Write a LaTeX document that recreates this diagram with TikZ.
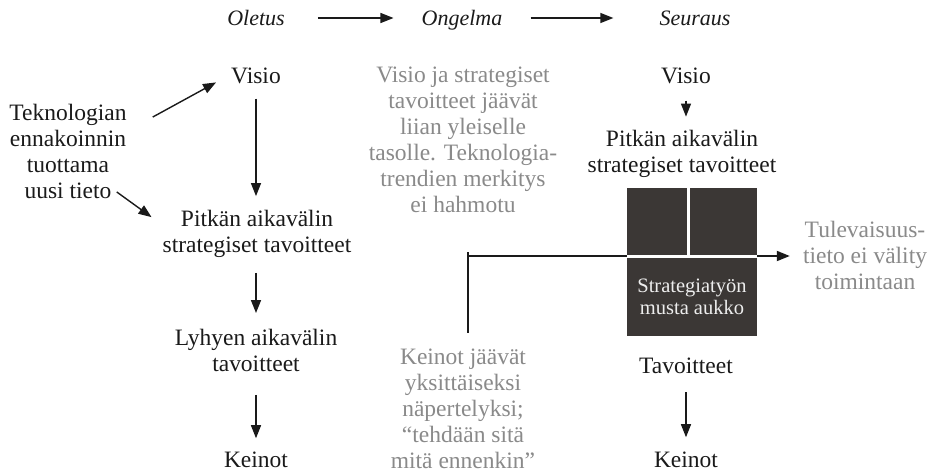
\documentclass[tikz,border=0pt]{standalone}
\usepackage{fontspec}
\setmainfont{Liberation Serif}
\usetikzlibrary{arrows.meta,calc}
\definecolor{ink}{HTML}{1A1A1A}
\definecolor{muted}{HTML}{8A8A8A}
\definecolor{hole}{HTML}{3B3735}
\definecolor{holetext}{HTML}{EDEDED}
\begin{document}
\begin{tikzpicture}[x=1pt,y=-1pt,
  txt/.style={font=\fontsize{23.5}{26}\selectfont, text=ink, align=center, inner sep=0pt},
  note/.style={font=\fontsize{23.5}{26}\selectfont, text=muted, align=center, inner sep=0pt},
  head/.style={font=\fontsize{22}{26}\selectfont\itshape, text=ink, inner sep=0pt,
               text height=15pt, text depth=5pt},
  holelabel/.style={font=\fontsize{20.5}{22}\selectfont, text=holetext, align=center, inner sep=0pt},
  arr/.style={draw=ink, line width=1.4pt, -{Triangle[length=13pt,width=10pt]}},
]
\fill[white] (0,0) rectangle (938,472);
\useasboundingbox (0,0) rectangle (938,472);

% column headings
\node[head, anchor=base] (oletus)  at (256,25) {Oletus};
\node[head, anchor=base] (ongelma) at (462,25) {Ongelma};
\node[head, anchor=base] (seuraus) at (695,25) {Seuraus};
\draw[arr, shorten <=33pt, shorten >=28pt] ([yshift=2pt]oletus.east) -- ([yshift=2pt]ongelma.west);
\draw[arr, shorten <=28pt, shorten >=46pt] ([yshift=2pt]ongelma.east) -- ([yshift=2pt]seuraus.west);

% left column: assumed chain
\node[txt] (tek) at (68,151.5) {Teknologian\\ennakoinnin\\tuottama\\uusi tieto};
\node[txt, anchor=base] (visL) at (256,83) {Visio};
\node[txt] (pitL) at (257,234) {Pitkän aikavälin\\strategiset tavoitteet};
\node[txt] (lyhL) at (256,350.5) {Lyhyen aikavälin\\tavoitteet};
\node[txt, anchor=base] (keiL) at (256,467) {Keinot};

\draw[arr, shorten <=15pt, shorten >=14pt] (visL.south) -- (visL.south |- pitL.north);
\draw[arr, shorten <=15pt, shorten >=16pt] (pitL.south -| visL.south) -- (visL.south |- lyhL.north);
\draw[arr, shorten <=23pt, shorten >=13pt] (lyhL.south) -- (lyhL.south |- keiL.north);
\draw[arr] ([shift={(26,13)}]tek.north east) -- ([shift={(-15,7)}]visL.west);
\draw[arr] ([shift={(-10,-7)}]tek.south east) -- ([shift={(-11,7)}]pitL.north west);

% middle column: the problem
\node[note] (probTop) at (463,140) {Visio ja strategiset\\tavoitteet jäävät\\liian yleiselle\\tasolle. Teknologia-\\trendien merkitys\\ei hahmotu};
\node[note] (probBot) at (463,408.5) {Keinot jäävät\\yksittäiseksi\\näpertelyksi;\\“tehdään sitä\\mitä ennenkin”};

% right column: the consequence
\node[txt, anchor=base] (visR) at (686,83) {Visio};
\node[txt] (pitR) at (682,154) {Pitkän aikavälin\\strategiset tavoitteet};
\node[txt, anchor=base] (tavR) at (686,373) {Tavoitteet};
\node[txt, anchor=base] (keiR) at (686,467) {Keinot};
\draw[arr, shorten <=17pt, shorten >=13.5pt] (visR.south) -- (visR.south |- pitR.north);
\draw[arr, shorten <=19pt, shorten >=14pt] (tavR.south) -- (tavR.south |- keiR.north);

% the black hole of strategy work
\node[fill=hole, minimum width=130pt, minimum height=148pt, inner sep=0pt] (hole) at (692,262) {};
\node[note] (future) at (865,255) {Tulevaisuus-\\tieto ei välity\\toimintaan};

% barrier and the flow that is cut off
\coordinate (barT) at (468,252);
\coordinate (barB) at (468,333);
\coordinate (barJ) at (468,256);
\draw[ink, line width=2.7pt] (barT) -- (barB);
\draw[arr, line width=1.8pt, shorten >=13pt] (barJ) -- (barJ -| future.west);
\draw[white, line width=3pt] (barJ -| hole.west) -- (barJ -| hole.east);
\draw[white, line width=3pt] (hole.north -| 688,0) -- (barJ -| 688,0);
\node[holelabel] (holeText) at (692,297) {Strategiatyön\\musta aukko};
\end{tikzpicture}
\end{document}
